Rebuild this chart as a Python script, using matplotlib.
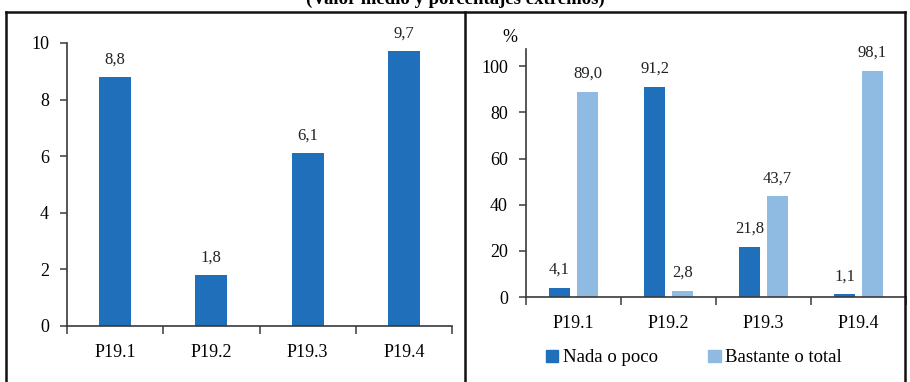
import matplotlib
matplotlib.use("Agg")
import matplotlib.pyplot as plt
from matplotlib.lines import Line2D
from matplotlib.patches import Patch
import numpy as np

categories = ["P19.1", "P19.2", "P19.3", "P19.4"]
mean_values = [8.8, 1.8, 6.1, 9.7]
nada_poco = [4.1, 91.2, 21.8, 1.1]
bastante_total = [89.0, 2.8, 43.7, 98.1]
series_names = ["Nada o poco", "Bastante o total"]

DARK = "#1f6fba"
LIGHT = "#8fbbe3"
AXIS = "#3a3a3a"
FONT = "Liberation Serif"

plt.rcParams["font.family"] = FONT

W, H = 910, 382
fig = plt.figure(figsize=(W / 100, H / 100), dpi=100)


def fmt(v):
    return f"{v:.1f}".replace(".", ",")


def style_axes(ax):
    for s in ("top", "right"):
        ax.spines[s].set_visible(False)
    for s in ("left", "bottom"):
        ax.spines[s].set_color(AXIS)
        ax.spines[s].set_linewidth(1.2)
    ax.tick_params(axis="y", direction="out", length=5, width=1.1, color=AXIS,
                   labelsize=13, pad=8)
    ax.tick_params(axis="x", which="major", length=0, labelsize=13, pad=13)
    ax.tick_params(axis="x", which="minor", direction="out", length=6,
                   width=1.1, color=AXIS)
    n = len(categories)
    ax.set_xlim(-0.5, n - 0.5)
    ax.set_xticks(np.arange(n))
    ax.set_xticklabels(categories)
    ax.set_xticks(np.arange(n + 1) - 0.5, minor=True)


# Left panel: mean value per item
x = np.arange(len(categories))
ax1 = fig.add_axes([67 / W, 1 - 326 / H, (452 - 67) / W, (326 - 43) / H])
ax1.bar(x, mean_values, width=0.33, color=DARK)
ax1.set_ylim(0, 10)
ax1.set_yticks(range(0, 11, 2))
style_axes(ax1)
for xi, v in zip(x, mean_values):
    ax1.annotate(fmt(v), (xi, v), xytext=(0, 7), textcoords="offset points",
                 ha="center", va="bottom", fontsize=12, color="#222222")

# Right panel: extreme percentages
ax2 = fig.add_axes([526 / W, 1 - 297 / H, (906 - 526) / W, (297 - 49) / H])
bw = 0.22
off = 0.147
ax2.bar(x - off, nada_poco, width=bw, color=DARK, label=series_names[0])
ax2.bar(x + off, bastante_total, width=bw, color=LIGHT, label=series_names[1])
ax2.set_ylim(0, 107.5)
ax2.set_yticks(range(0, 101, 20))
style_axes(ax2)
for xi, v in zip(x - off, nada_poco):
    ax2.annotate(fmt(v), (xi, v), xytext=(0, 7), textcoords="offset points",
                 ha="center", va="bottom", fontsize=12, color="#222222")
for xi, v in zip(x + off, bastante_total):
    ax2.annotate(fmt(v), (xi, v), xytext=(0, 7), textcoords="offset points",
                 ha="center", va="bottom", fontsize=12, color="#222222")
fig.text(510 / W, 1 - 38 / H, "%", ha="center", va="center", fontsize=13)

handles = [Patch(color=DARK), Patch(color=LIGHT)]
fig.legend(handles, series_names, loc="center", bbox_to_anchor=(694 / W, 1 - 358 / H),
           ncol=2, frameon=False, fontsize=13.5, handlelength=0.65, handleheight=0.65,
           handletextpad=0.25, columnspacing=2.7)

# Frame around both panels
fig.add_artist(Line2D([6 / W, 905 / W], [1 - 12 / H, 1 - 12 / H], color="#111111", lw=1.8))
fig.add_artist(Line2D([6 / W, 6 / W], [0, 1 - 12 / H], color="#111111", lw=1.8))
fig.add_artist(Line2D([905 / W, 905 / W], [0, 1 - 12 / H], color="#111111", lw=1.8))
fig.add_artist(Line2D([465 / W, 465 / W], [0, 1 - 12 / H], color="#111111", lw=1.8))

fig.text(455 / W, 1 - 4 / H, "(Valor medio y porcentajes extremos)", ha="center",
         va="baseline", fontsize=13.5, fontweight="bold")

fig.savefig("out.png", dpi=100)
